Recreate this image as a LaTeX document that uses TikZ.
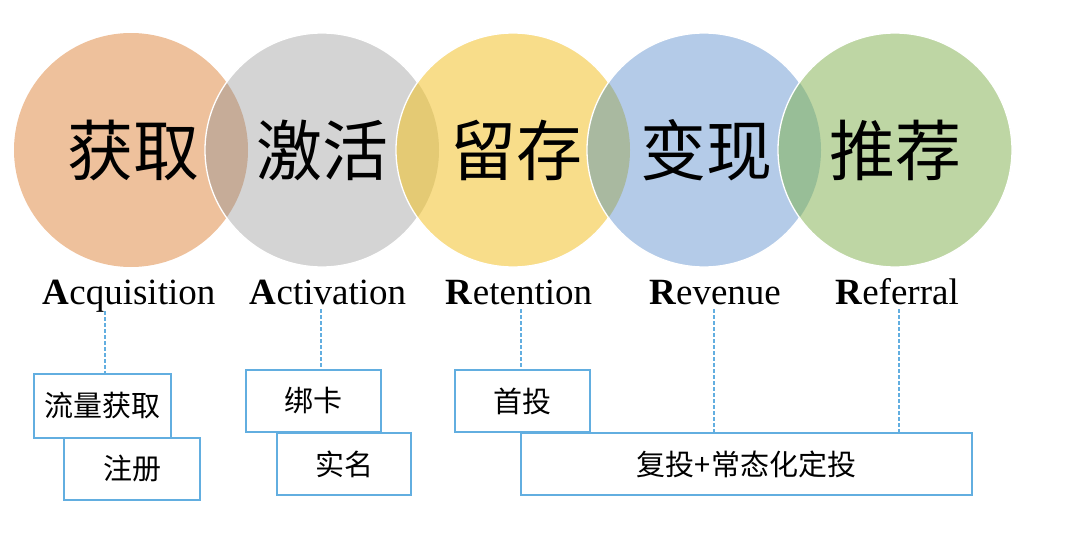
\documentclass[tikz,border=0pt]{standalone}
\usepackage{fontspec}
\setmainfont{Liberation Serif}
\newfontfamily\cjk{Noto Sans CJK SC}
\definecolor{cA}{HTML}{EEC19C}
\definecolor{cB}{HTML}{D4D4D4}
\definecolor{cC}{HTML}{F8DD8A}
\definecolor{cD}{HTML}{B4CBE8}
\definecolor{cE}{HTML}{BED6A4}
\definecolor{oAB}{HTML}{C6AC98}
\definecolor{oBC}{HTML}{E4CA74}
\definecolor{oCD}{HTML}{A9B9A0}
\definecolor{oDE}{HTML}{98BE97}
\definecolor{boxblue}{HTML}{62AEE0}
\tikzset{
  bigtxt/.style={font=\cjk\fontsize{66}{66}\selectfont, inner sep=0pt},
  lbl/.style={font=\fontsize{37}{37}\selectfont, anchor=base, inner sep=0pt},
  stagebox/.style={draw=boxblue, line width=1.6pt, fill=white, inner sep=0pt,
    font=\cjk\fontsize{29}{29}\selectfont, minimum height=62pt},
  dline/.style={draw=boxblue, line width=1.3pt, dash pattern=on 3.5pt off 2.5pt},
  ring/.style={draw=white, line width=1.3pt}
}
\begin{document}
\begin{tikzpicture}[x=1pt,y=-1pt]
\useasboundingbox (0,0) rectangle (1080,546);
% circles
\coordinate (p1) at (131,150);
\coordinate (p2) at (322,150);
\coordinate (p3) at (513,150);
\coordinate (p4) at (704,150);
\coordinate (p5) at (895,150);
\fill[cA] (p1) circle[radius=117pt];
\fill[cB] (p2) circle[radius=117pt];
\begin{scope}\clip (p1) circle[radius=117pt];\fill[oAB] (p2) circle[radius=117pt];\end{scope}
\draw[ring] (p2) circle[radius=117pt];
\fill[cC] (p3) circle[radius=117pt];
\begin{scope}\clip (p2) circle[radius=117pt];\fill[oBC] (p3) circle[radius=117pt];\end{scope}
\draw[ring] (p3) circle[radius=117pt];
\fill[cD] (p4) circle[radius=117pt];
\begin{scope}\clip (p3) circle[radius=117pt];\fill[oCD] (p4) circle[radius=117pt];\end{scope}
\draw[ring] (p4) circle[radius=117pt];
\fill[cE] (p5) circle[radius=117pt];
\begin{scope}\clip (p4) circle[radius=117pt];\fill[oDE] (p5) circle[radius=117pt];\end{scope}
\draw[ring] (p5) circle[radius=117pt];
% circle texts
\node[bigtxt] (n1) at (133,150) {获取};
\node[bigtxt] (n2) at (322,150) {激活};
\node[bigtxt] (n3) at (516,150) {留存};
\node[bigtxt] (n4) at (706,150) {变现};
\node[bigtxt] (n5) at (895,150) {推荐};
% english labels
\node[lbl] (l1) at (129,304) {\textbf{A}cquisition};
\node[lbl] (l2) at (328,304) {\textbf{A}ctivation};
\node[lbl] (l3) at (519,304) {\textbf{R}etention};
\node[lbl] (l4) at (715,304) {\textbf{R}evenue};
\node[lbl] (l5) at (897,304) {\textbf{R}eferral};
% boxes
\node[stagebox, minimum width=136pt] (b2) at (132,469) {注册};
\node[stagebox, minimum width=137pt, minimum height=64pt] (b1) at (102.5,406) {流量获取};
\node[stagebox, minimum width=134pt] (b4) at (344,464) {实名};
\node[stagebox, minimum width=135pt] (b3) at (313.5,401) {绑卡};
\node[stagebox, minimum width=451pt] (b6) at (746.5,464) {复投+常态化定投};
\node[stagebox, minimum width=135pt] (b5) at (522.5,401) {首投};
% dashed connectors
\coordinate (t1) at (105,311);
\coordinate (t2) at (321,309);
\coordinate (t3) at (521,309);
\coordinate (t4) at (714,309);
\coordinate (t5) at (899,309);
\draw[dline] (t1) -- (t1 |- b1.north);
\draw[dline] (t2) -- (t2 |- b3.north);
\draw[dline] (t3) -- (t3 |- b5.north);
\draw[dline] (t4) -- (t4 |- b6.north);
\draw[dline] (t5) -- (t5 |- b6.north);
\end{tikzpicture}
\end{document}
